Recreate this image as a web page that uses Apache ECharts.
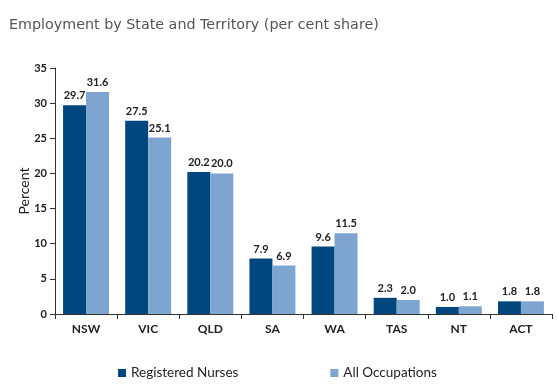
<!DOCTYPE html>
<html><head><meta charset="utf-8">
<script src="https://cdn.jsdelivr.net/npm/echarts@6/dist/echarts.min.js"></script>
<style>html,body{margin:0;padding:0;background:#fff}#c{width:557px;height:388px}</style>
</head><body><div id="c"></div>
<script>
const categories = ['NSW','VIC','QLD','SA','WA','TAS','NT','ACT'];
const registeredNurses = [29.7,27.5,20.2,7.9,9.6,2.3,1.0,1.8];
const allOccupations = [31.6,25.1,20.0,6.9,11.5,2.0,1.1,1.8];
const yTicks = [0,5,10,15,20,25,30,35];

const chart = echarts.init(document.getElementById('c'));
const lbl = {show:true,position:'top',distance:4,fontFamily:'Lato',fontWeight:'bold',fontSize:11,color:'#222',formatter:p=>p.value.toFixed(1)};
chart.setOption({
  animation:false,
  title:{text:'Employment by State and Territory (per cent share)',left:4,top:13,textStyle:{fontFamily:'DejaVu Sans',fontWeight:'normal',fontSize:14.3,color:'#555'}},
  grid:{left:55,right:5,top:68,bottom:74},
  legend:{top:361,left:113,itemGap:92,itemWidth:8,itemHeight:8,icon:'rect',textStyle:{fontFamily:'Lato',fontSize:13.5,color:'#222'},data:['Registered Nurses','All Occupations']},
  xAxis:{type:'category',data:categories,axisLine:{lineStyle:{color:'#333'}},axisTick:{show:true,lineStyle:{color:'#333'}},axisLabel:{fontFamily:'Lato',fontWeight:'bold',fontSize:12,color:'#222',margin:9}},
  yAxis:{type:'value',min:0,max:35,interval:5,name:'Percent',nameLocation:'middle',nameGap:24,nameMoveOverlap:false,nameTextStyle:{fontFamily:'Lato',fontSize:14,color:'#222'},axisLine:{show:true,lineStyle:{color:'#333'}},axisTick:{show:true,lineStyle:{color:'#333'}},splitLine:{show:false},axisLabel:{fontFamily:'Lato',fontWeight:'bold',fontSize:11,color:'#222',formatter:v=>yTicks.includes(v)?String(v):''}},
  series:[
    {name:'Registered Nurses',type:'bar',data:registeredNurses,itemStyle:{color:'#00467F'},barGap:'0%',barCategoryGap:'26%',label:lbl},
    {name:'All Occupations',type:'bar',data:allOccupations,itemStyle:{color:'#7DA5CF'},label:lbl}
  ]
});
</script></body></html>
